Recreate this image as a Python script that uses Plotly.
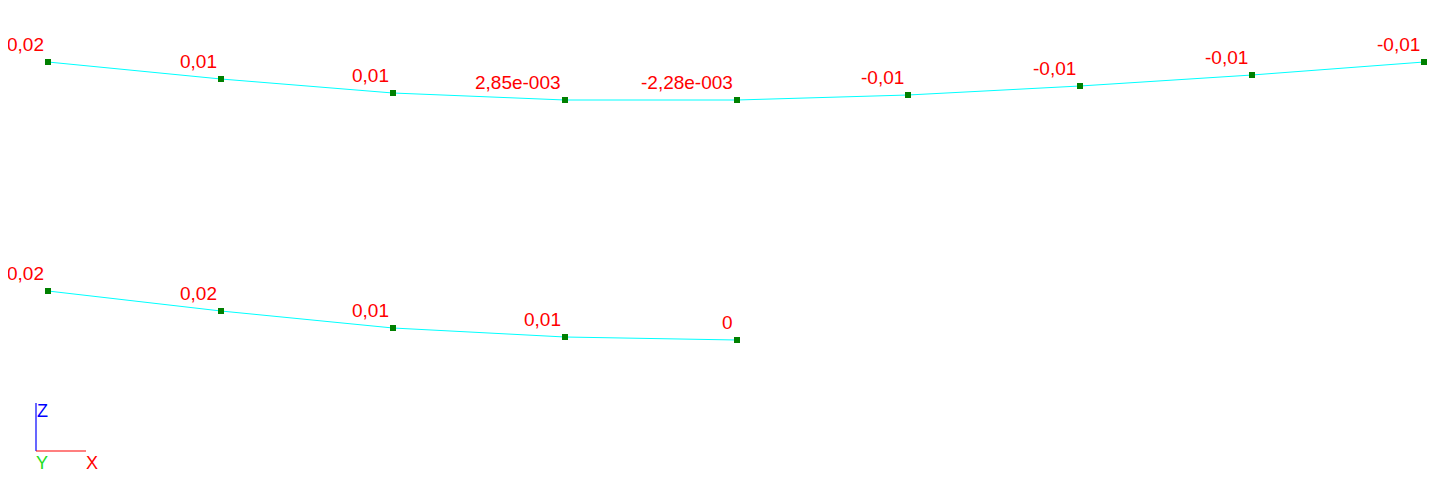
import plotly.graph_objects as go

# Beam 1 (top) node stations and drawn deflected positions (screen units)
beam1_x = [48, 221, 393, 565, 737, 908, 1080, 1252, 1424]
beam1_y = [62, 79, 93, 100, 100, 95, 86, 75, 62]
beam1_labels = ["0,02", "0,01", "0,01", "2,85e-003", "-2,28e-003", "-0,01", "-0,01", "-0,01", "-0,01"]

# Beam 2 (bottom)
beam2_x = [48, 221, 393, 565, 737]
beam2_y = [291, 311, 328, 337, 340]
beam2_labels = ["0,02", "0,02", "0,01", "0,01", "0"]

W, H = 1453, 491
OFF = 8  # page body margin offset
fig = go.Figure()

for xs, ys in [(beam1_x, beam1_y), (beam2_x, beam2_y)]:
    fig.add_trace(go.Scatter(x=xs, y=ys, mode="lines",
                             line=dict(color="#00FFFF", width=1),
                             hoverinfo="skip", showlegend=False))
    fig.add_trace(go.Scatter(x=xs, y=ys, mode="markers",
                             marker=dict(symbol="square", size=6, color="#008000",
                                         line=dict(width=0)),
                             hoverinfo="skip", showlegend=False))

annotations = []
for xs, ys, labs in [(beam1_x, beam1_y, beam1_labels), (beam2_x, beam2_y, beam2_labels)]:
    for x, y, t in zip(xs, ys, labs):
        annotations.append(dict(x=x, y=y, text=t, showarrow=False,
                                xanchor="right", yanchor="middle",
                                xshift=-2, yshift=18,
                                font=dict(family="Liberation Sans, Arial", size=19, color="#FF0000")))

# Axis triad
fig.add_trace(go.Scatter(x=[36, 36], y=[403, 451], mode="lines",
                         line=dict(color="#0000FF", width=1.2), hoverinfo="skip", showlegend=False))
fig.add_trace(go.Scatter(x=[36, 86], y=[451, 451], mode="lines",
                         line=dict(color="#FF0000", width=1.2), hoverinfo="skip", showlegend=False))
for tx, ty, t, c in [(42, 411, "Z", "#0000FF"), (42, 463, "Y", "#22DD22"), (92, 463, "X", "#FF0000")]:
    annotations.append(dict(x=tx, y=ty, text=t, showarrow=False, xanchor="center", yanchor="middle",
                            font=dict(family="Liberation Sans, Arial", size=18, color=c)))

fig.update_layout(
    width=W, height=H,
    margin=dict(l=0, r=0, t=0, b=0),
    paper_bgcolor="white", plot_bgcolor="white",
    xaxis=dict(range=[OFF, W + OFF], visible=False, fixedrange=True),
    yaxis=dict(range=[H + OFF, OFF], visible=False, fixedrange=True),
    annotations=annotations,
)

fig.write_html("out.html")
